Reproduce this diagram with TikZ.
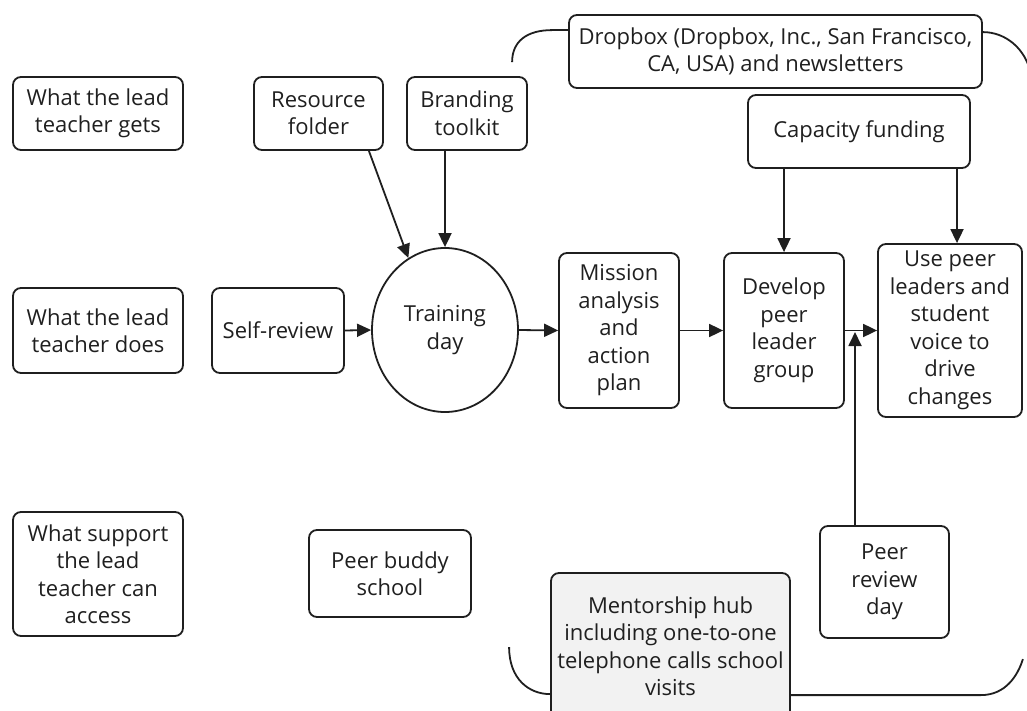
\documentclass[tikz,border=0pt]{standalone}
\usepackage{fontspec}
\setmainfont{Open Sans}
\usetikzlibrary{arrows.meta,shapes.geometric,calc}
\begin{document}
\begin{tikzpicture}[x=1pt,y=-1pt,
 box/.style={draw=black!88, line width=1.8pt, rounded corners=8pt, align=center, inner sep=0pt, font=\fontsize{22}{27.5}\selectfont, text=black!88},
 arr/.style={draw=black!88, line width=1.8pt, -{Triangle[length=14pt,width=13pt]}},
 brk/.style={draw=black!88, line width=1.8pt}]
\useasboundingbox (0,0) rectangle (1027,711);

\node[box, minimum width=170, minimum height=73] (gets) at (98,113.5) {What the lead\\teacher gets};
\node[box, minimum width=170, minimum height=85] (does) at (98,330.5) {What the lead\\teacher does};
\node[box, minimum width=170, minimum height=124] (support) at (98,574) {What support\\the lead\\teacher can\\access};

\node[box, minimum width=129, minimum height=73] (resource) at (318.5,113.5) {Resource\\folder};
\node[box, minimum width=120, minimum height=73] (branding) at (467,113.5) {Branding\\toolkit};
\node[box, minimum width=132, minimum height=85] (self) at (278,330.5) {Self-review};
\node[box, ellipse, minimum width=146, minimum height=164] (train) at (445,330) {Training\\day};
\node[box, minimum width=120, minimum height=155] (mission) at (619,330.5) {Mission\\analysis\\and\\action\\plan};
\node[box, minimum width=120, minimum height=155] (develop) at (784,330.5) {Develop\\peer\\leader\\group};
\node[box, minimum width=144, minimum height=173] (use) at (950,330.5) {Use peer\\leaders and\\student\\voice to\\drive\\changes};
\node[box, minimum width=222, minimum height=73] (capacity) at (859,131.5) {Capacity funding};
\node[box, minimum width=413, minimum height=73] (dropbox) at (775.5,51.5) {Dropbox (Dropbox, Inc., San Francisco,\\CA, USA) and newsletters};
\node[box, minimum width=162, minimum height=87] (buddy) at (390,573.5) {Peer buddy\\school};
\node[box, minimum width=129, minimum height=112] (review) at (884.5,582) {Peer\\review\\day};
\node[box, fill=black!5, minimum width=239, minimum height=146] (mentor) at (670.5,646) {Mentorship hub\\including one-to-one\\telephone calls school\\visits};

\coordinate (j) at (855,330);

\draw[arr] ([xshift=-15pt]resource.south east) -- (train.117);
\draw[arr] (train.north |- branding.south) -- (train.north);
\draw[arr] (self.east) -- (train.west);
\draw[arr] (train.east) -- (mission.west);
\draw[arr] (mission.east) -- (develop.west);
\draw[arr] (develop.east) -- (use.west);
\draw[arr] (develop.north |- capacity.south) -- (develop.north);
\draw[arr] ([xshift=7pt]use.north |- capacity.south) -- ([xshift=7pt]use.north);
\draw[arr] (review.north -| j) -- ([yshift=-2pt]j);

\draw[brk] ($(dropbox.north west)+(0,16)$) -- ++(-16,0) .. controls +(-25,0) and +(0,-21) .. ++(-40,32);
\draw[brk] ($(dropbox.north east)+(0,18)$) .. controls +(23,0) and +(-5,-25) .. ++(48,42);
\draw[brk] ($(mentor.north west)+(-41,75)$) .. controls +(0,32) and +(-21,0) .. ($(mentor.north west)+(0,122)$);
\draw[brk] ($(mentor.north east)+(0,123)$) -- ++(190,0) .. controls +(25,0) and +(-5,16) .. ++(42,-36);
\end{tikzpicture}
\end{document}
